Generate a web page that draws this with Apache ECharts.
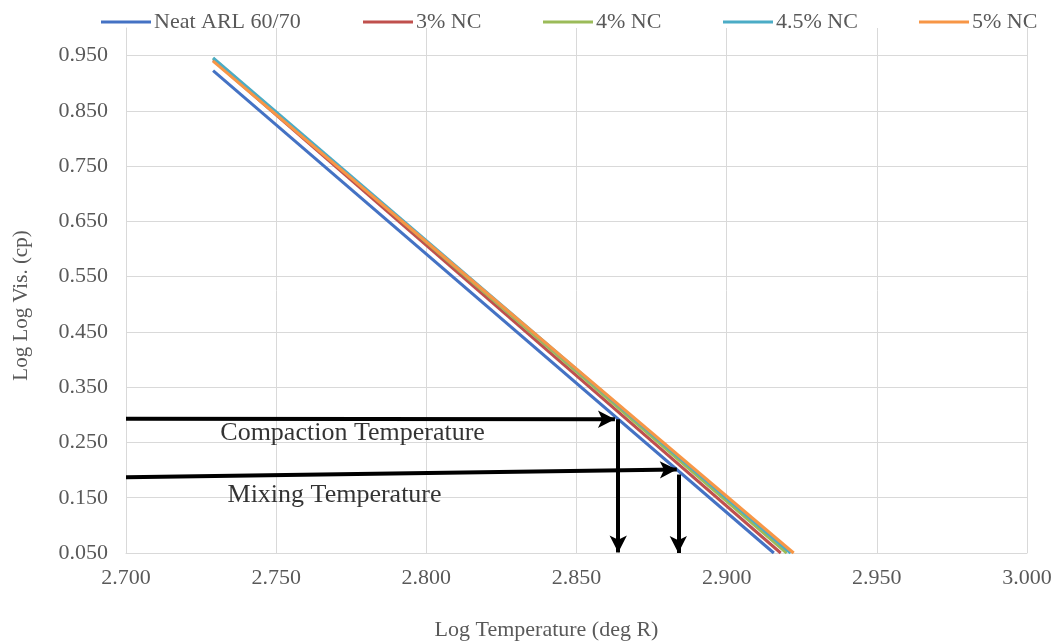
<!DOCTYPE html>
<html>
<head>
<meta charset="utf-8">
<script src="https://cdn.jsdelivr.net/npm/echarts@6/dist/echarts.min.js"></script>
<style>
  html, body { margin: 0; padding: 0; background: #fff; }
  #chart { width: 1054px; height: 642px; }
</style>
</head>
<body>
<div id="chart"></div>
<script>
// series: [log T, log log visc] at the two ends of each line
var seriesNames = ["Neat ARL 60/70", "3% NC", "4% NC", "4.5% NC", "5% NC"];
var seriesColors = ["#4472C4", "#C0504D", "#9BBB59", "#4BACC6", "#F79646"];
var xStart = [2.729, 2.729, 2.729, 2.729, 2.729];
var yStart = [0.923, 0.942, 0.945, 0.946, 0.940];
var xEnd = [2.9157, 2.918, 2.920, 2.9213, 2.9223];
var yEnd = [0.05, 0.05, 0.05, 0.05, 0.05];

// annotation arrows (data coords)
var compactionArrows = [
  [[2.700, 0.293], [2.8628, 0.292]],
  [[2.8639, 0.292], [2.8639, 0.051]]
];
var mixingArrows = [
  [[2.700, 0.187], [2.8834, 0.201]],
  [[2.8839, 0.192], [2.8839, 0.050]]
];
var noteLabels = ["Compaction Temperature", "Mixing Temperature"];
var notePos = [[2.7314, 0.266], [2.7338, 0.155]];

// legend item left edges
var legendLeft = [101, 363, 543, 723, 919];

var font = "'Liberation Serif', 'Times New Roman', serif";
var chart = echarts.init(document.getElementById("chart"));

var series = seriesNames.map(function (name, i) {
  return {
    name: name,
    type: "line",
    data: [[xStart[i], yStart[i]], [xEnd[i], yEnd[i]]],
    showSymbol: false,
    symbol: "none",
    lineStyle: { width: 3, color: seriesColors[i] },
    itemStyle: { color: seriesColors[i] },
    animation: false,
    z: 2
  };
});

var arrowLines = compactionArrows.concat(mixingArrows).map(function (seg) {
  return [{ coord: seg[0] }, { coord: seg[1] }];
});

series.push({
  name: "arrows",
  type: "line",
  data: [],
  clip: false,
  animation: false,
  markLine: {
    silent: true,
    animation: false,
    symbol: ["none", "arrow"],
    symbolSize: [13, 17],
    label: { show: false },
    lineStyle: { color: "#000", width: 4, type: "solid" },
    emphasis: { disabled: true },
    data: arrowLines
  },
  z: 5
});

series.push({
  name: "notes",
  type: "scatter",
  symbolSize: 0,
  animation: false,
  silent: true,
  data: noteLabels.map(function (t, i) {
    return { name: t, value: notePos[i] };
  }),
  label: {
    show: true,
    position: "right",
    distance: 0,
    formatter: "{b}",
    color: "#000",
    fontFamily: font,
    fontSize: 26
  },
  z: 6
});

var legends = seriesNames.map(function (name, i) {
  return {
    data: [name],
    left: legendLeft[i],
    top: 11,
    padding: 0,
    icon: "rect",
    itemWidth: 50,
    itemHeight: 3,
    itemGap: 0,
    textStyle: { fontFamily: font, fontSize: 22, color: "#595959", padding: [0, 0, 0, -2] }
  };
});

chart.setOption({
  backgroundColor: "#fff",
  animation: false,
  legend: legends,
  grid: { left: 126, right: 27, top: 28, bottom: 89, containLabel: false, outerBoundsMode: "none" },
  xAxis: {
    type: "value",
    min: 2.7,
    max: 3.0,
    interval: 0.05,
    name: "Log Temperature (deg R)",
    nameLocation: "middle",
    nameGap: 66,
    nameTextStyle: { fontFamily: font, fontSize: 22, color: "#595959", padding: [0, 60, 0, 0] },
    axisLine: { show: true, lineStyle: { color: "#d9d9d9", width: 1 } },
    axisTick: { show: false },
    axisLabel: {
      fontFamily: font, fontSize: 22, color: "#595959", margin: 14,
      formatter: function (v) { return v.toFixed(3); }
    },
    splitLine: { show: true, lineStyle: { color: "#d9d9d9", width: 1 } }
  },
  yAxis: {
    type: "value",
    min: 0.05,
    max: 1.0,
    interval: 0.1,
    name: "Log Log Vis. (cp)",
    nameLocation: "middle",
    nameGap: 94,
    nameTextStyle: { fontFamily: font, fontSize: 21, color: "#595959", padding: [0, 30, 0, 0] },
    axisLine: { show: true, lineStyle: { color: "#d9d9d9", width: 1 } },
    axisTick: { show: false },
    axisLabel: {
      fontFamily: font, fontSize: 22, color: "#595959", margin: 18,
      showMaxLabel: false,
      formatter: function (v) { return v.toFixed(3); }
    },
    splitLine: {
      show: true,
      showMaxLine: false,
      lineStyle: {
        color: ["#d9d9d9", "#d9d9d9", "#d9d9d9", "#d9d9d9", "#d9d9d9", "#d9d9d9",
                "#d9d9d9", "#d9d9d9", "#d9d9d9", "#d9d9d9", "rgba(0,0,0,0)"],
        width: 1
      }
    }
  },
  series: series
});
</script>
</body>
</html>
